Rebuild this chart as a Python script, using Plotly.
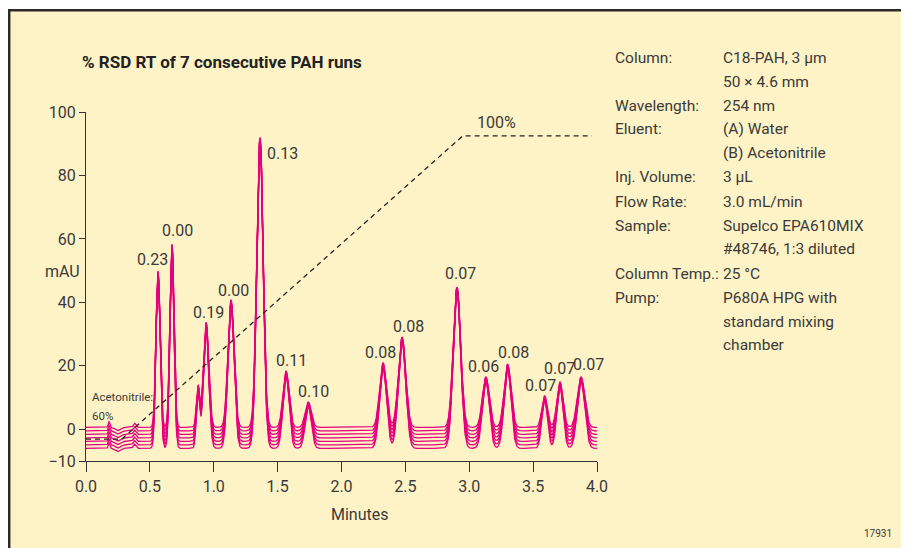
import numpy as np
import plotly.graph_objects as go

# -- peak table (minutes, mAU, sigma in minutes)
peak_times = [0.18, 0.25, 0.38, 0.564, 0.673, 0.877, 0.94, 1.135, 1.362, 1.566, 1.74,
              2.325, 2.474, 2.904, 3.13, 3.30, 3.59, 3.71, 3.875]
peak_heights = [1.8, -1.0, 1.3, 49.7, 58.2, 13.5, 33.6, 40.6, 91.8, 18.2, 8.5,
                20.8, 28.9, 44.7, 16.4, 20.4, 10.4, 14.8, 16.4]
peak_sigmas = [0.006, 0.02, 0.01, 0.016, 0.016, 0.013, 0.021, 0.024, 0.025, 0.024, 0.024,
               0.027, 0.029, 0.029, 0.027, 0.027, 0.022, 0.024, 0.029]

# -- %RSD of retention time for the labelled peaks
label_times = [0.564, 0.673, 0.94, 1.135, 1.362, 1.566, 1.74, 2.325, 2.474, 2.904,
               3.13, 3.30, 3.59, 3.71, 3.875]
label_heights = [49.7, 58.2, 33.6, 40.6, 91.8, 18.2, 8.5, 20.8, 28.9, 44.7,
                 16.4, 20.4, 10.4, 14.8, 16.4]
rsd_text = ["0.23", "0.00", "0.19", "0.00", "0.13", "0.11", "0.10", "0.08", "0.08", "0.07",
            "0.06", "0.08", "0.07", "0.07", "0.07"]

# -- baseline of each of the 7 runs (mAU)
run_offsets = [0.6, -0.5, -1.6, -2.7, -3.8, -4.9, -6.0]

# -- acetonitrile gradient drawn on the mAU scale
gradient_t = [0.0, 0.28, 2.95, 3.96]
gradient_v = [-3.1, -3.1, 92.5, 92.5]

x_ticks = [0.0, 0.5, 1.0, 1.5, 2.0, 2.5, 3.0, 3.5, 4.0]
y_ticks = [-10, 0, 20, 40, 60, 80, 100]

info_labels = ["Column:", "", "Wavelength:", "Eluent:", "", "Inj. Volume:", "Flow Rate:",
               "Sample:", "", "Column Temp.:", "Pump:", "", ""]
info_values = ["C18-PAH, 3 \u03bcm", "50 \u00d7 4.6 mm", "254 nm", "(A) Water", "(B) Acetonitrile",
               "3 \u03bcL", "3.0 mL/min", "Supelco EPA610MIX", "#48746, 1:3 diluted", "25 \u00b0C",
               "P680A HPG with", "standard mixing", "chamber"]

FONT = "Roboto, Liberation Sans, sans-serif"
TXT = "#3a3a3a"
PINK = "#e5007e"

# page is drawn with an 8px body margin; positions below are page pixels
PAGE_W, PAGE_H, M = 909, 548, 8
L, R, T, B = 86, 597, 112, 461   # plot area: x 0..4, y -10..100


def px(x):
    return (x - L) / (R - L)


def py(y):
    return (B - y) / (B - T)


def note(x, y, text, size, xanchor='center', color=TXT):
    return dict(x=px(x), y=py(y), xref='paper', yref='paper', text=text, showarrow=False,
                xanchor=xanchor, yanchor='middle', font=dict(size=size, color=color, family=FONT))


fig = go.Figure()

t = np.linspace(0, 4, 2401)
for b in run_offsets:
    y = np.full_like(t, b)
    for tk, hk, sk in zip(peak_times, peak_heights, peak_sigmas):
        amp = hk - 0.8 * b if hk > 5 else hk
        y += amp * np.exp(-0.5 * ((t - tk) / sk) ** 2)
    fig.add_trace(go.Scatter(x=t, y=y, mode='lines', line=dict(color=PINK, width=1.3),
                             hoverinfo='skip', showlegend=False))

fig.add_trace(go.Scatter(x=gradient_t, y=gradient_v, mode='lines',
                         line=dict(color='#222222', width=1.3, dash='5px,4px'),
                         hoverinfo='skip', showlegend=False))

# label offsets (pixels) relative to each peak top
label_dx = [-6, 6, 2, 2, 22, 5, 5, -3, 6, 4, -2, 6, -4, 0, 7]
label_dy = [12, 14, 10, 10, -15, 11, 11, 11, 11, 14, 11, 12, 11, 14, 13]

annotations = []
for tk, hk, txt, dx, dy in zip(label_times, label_heights, rsd_text, label_dx, label_dy):
    annotations.append(dict(x=tk, y=hk, xref='x', yref='y', text=txt, showarrow=False,
                            xanchor='center', yanchor='middle',
                            xshift=dx, yshift=dy, font=dict(size=16, color=TXT, family=FONT)))

annotations.append(note(475, 122, "100%", 16, 'left'))
annotations.append(note(90, 397, "Acetonitrile:", 11.5, 'left'))
annotations.append(note(90, 416, "60%", 11.5, 'left'))
annotations.append(note(80, 62, "<b>% RSD RT of 7 consecutive PAH runs</b>", 17, 'left', '#222222'))
annotations.append(note(62, 271, "mAU", 16))
annotations.append(note(360, 514, "Minutes", 16))
annotations.append(note(878, 533, "17931", 10))

row_y = [58, 82, 106, 129, 153, 177, 202, 226, 249, 274, 298, 322, 345]
for ry, lab, val in zip(row_y, info_labels, info_values):
    if lab:
        annotations.append(note(613, ry, lab, 15.5, 'left'))
    annotations.append(note(721, ry, val, 15.5, 'left'))

fig.update_layout(
    width=PAGE_W - M, height=PAGE_H - M,
    margin=dict(l=L - M, r=PAGE_W - R, t=T - M, b=PAGE_H - B, pad=0),
    paper_bgcolor='white',
    plot_bgcolor='rgba(0,0,0,0)',
    annotations=annotations,
    shapes=[dict(type='rect', xref='paper', yref='paper', layer='below',
                 x0=px(9.2), x1=px(PAGE_W + 20), y0=py(10.2), y1=py(PAGE_H + 20),
                 fillcolor='#fef3c6', line=dict(color='#2a2a2a', width=2.5))],
    xaxis=dict(range=[0, 4], tickvals=x_ticks, ticktext=[f"{v:.1f}" for v in x_ticks],
               showgrid=False, zeroline=False, showline=True, linecolor='#333333', linewidth=1.3,
               ticks='outside', ticklen=10, tickwidth=1.3, tickcolor='#333333',
               ticklabelstandoff=1, tickfont=dict(size=16, color=TXT, family=FONT)),
    yaxis=dict(range=[-10, 100], tickvals=y_ticks,
               showgrid=False, zeroline=False, showline=True, linecolor='#333333', linewidth=1.3,
               ticks='outside', ticklen=6, tickwidth=1.3, tickcolor='#333333',
               tickfont=dict(size=16, color=TXT, family=FONT)),
)

fig.write_html("out.html")
